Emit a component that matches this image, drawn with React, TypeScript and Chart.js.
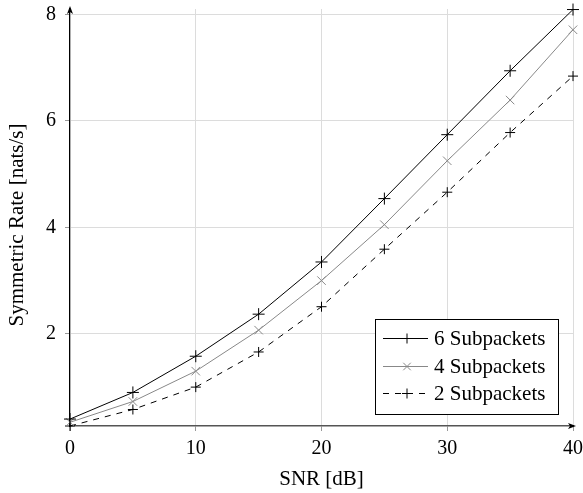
import { useEffect, useRef } from "react";
import { Chart, registerables } from "chart.js";
Chart.register(...registerables);

const snr = [0, 5, 10, 15, 20, 25, 30, 35, 40];
const rate6 = [0.40, 0.90, 1.58, 2.37, 3.35, 4.54, 5.74, 6.94, 8.09];
const rate4 = [0.34, 0.73, 1.30, 2.07, 3.00, 4.05, 5.25, 6.39, 7.71];
const rate2 = [0.27, 0.58, 1.00, 1.66, 2.51, 3.59, 4.66, 5.78, 6.84];
const xTicks = [0, 10, 20, 30, 40];
const yTicks = [2, 4, 6, 8];
const seriesLabels = ["6 Subpackets", "4 Subpackets", "2 Subpackets"];
const xTitle = "SNR [dB]";
const yTitle = "Symmetric Rate [nats/s]";

const FONT = "'Liberation Serif', 'Times New Roman', serif";

const decor = {
  id: "decor",
  afterDraw(chart: any) {
    const ctx = chart.ctx;
    const a = chart.chartArea;
    ctx.save();
    // y-axis arrow
    ctx.fillStyle = "#000";
    ctx.beginPath();
    ctx.moveTo(a.left, a.top - 3);
    ctx.lineTo(a.left - 3, a.top + 5);
    ctx.lineTo(a.left, a.top + 3);
    ctx.lineTo(a.left + 3, a.top + 5);
    ctx.closePath();
    ctx.fill();
    // x-axis arrow
    ctx.beginPath();
    ctx.moveTo(a.right + 3, a.bottom);
    ctx.lineTo(a.right - 5, a.bottom - 3);
    ctx.lineTo(a.right - 3, a.bottom);
    ctx.lineTo(a.right - 5, a.bottom + 3);
    ctx.closePath();
    ctx.fill();

    // y title
    ctx.save();
    ctx.translate(17, 225);
    ctx.rotate(-Math.PI / 2);
    ctx.font = `21px ${FONT}`;
    ctx.textAlign = "center";
    ctx.textBaseline = "middle";
    ctx.fillStyle = "#000";
    ctx.fillText(yTitle, 0, 0);
    ctx.restore();

    // legend
    const bx = 375, by = 319, bw = 183, bh = 95;
    ctx.fillStyle = "#fff";
    ctx.fillRect(bx, by, bw, bh);
    ctx.strokeStyle = "#000";
    ctx.lineWidth = 1;
    ctx.setLineDash([]);
    ctx.strokeRect(bx + 0.5, by + 0.5, bw, bh);
    const rows = [338, 366, 393];
    chart.data.datasets.forEach((ds: any, i: number) => {
      const y = rows[i] + 0.5;
      ctx.strokeStyle = ds.borderColor;
      ctx.lineWidth = ds.borderWidth;
      ctx.setLineDash(ds.borderDash || []);
      ctx.beginPath();
      ctx.moveTo(383, y);
      ctx.lineTo(428, y);
      ctx.stroke();
      ctx.setLineDash([]);
      const cx = 407;
      const r = 5;
      ctx.strokeStyle = ds.pointBorderColor;
      ctx.lineWidth = 1;
      ctx.beginPath();
      if (ds.pointStyle === "crossRot") {
        const d = r * 0.75;
        ctx.moveTo(cx - d, y - d); ctx.lineTo(cx + d, y + d);
        ctx.moveTo(cx - d, y + d); ctx.lineTo(cx + d, y - d);
      } else {
        ctx.moveTo(cx - r, y); ctx.lineTo(cx + r, y);
        ctx.moveTo(cx, y - r); ctx.lineTo(cx, y + r);
      }
      ctx.stroke();
      ctx.fillStyle = "#000";
      ctx.font = `21px ${FONT}`;
      ctx.textBaseline = "middle";
      ctx.textAlign = "left";
      ctx.fillText(ds.label, 434, rows[i] + 1);
    });
    ctx.restore();
  },
};

export default function App() {
  const ref = useRef<HTMLCanvasElement | null>(null);
  useEffect(() => {
    document.body.style.margin = "0";
    const canvas = ref.current!;
    const chart = new Chart(canvas, {
      type: "line",
      data: {
        datasets: [
          {
            label: seriesLabels[0],
            data: snr.map((x, i) => ({ x, y: rate6[i] })),
            borderColor: "#000",
            pointBorderColor: "#000",
            borderWidth: 1,
            pointStyle: "cross",
            pointRadius: 6,
            pointBorderWidth: 1,
          },
          {
            label: seriesLabels[1],
            data: snr.map((x, i) => ({ x, y: rate4[i] })),
            borderColor: "#888",
            pointBorderColor: "#888",
            borderWidth: 1,
            pointStyle: "crossRot",
            pointRadius: 6,
            pointBorderWidth: 1,
          },
          {
            label: seriesLabels[2],
            data: snr.map((x, i) => ({ x, y: rate2[i] })),
            borderColor: "#000",
            pointBorderColor: "#000",
            borderWidth: 1,
            borderDash: [6, 6],
            pointStyle: "cross",
            pointRadius: 5,
            pointBorderWidth: 1,
          },
        ] as any,
      },
      options: {
        animation: false,
        responsive: false,
        clip: false as any,
        layout: { padding: { top: 9, right: 10, left: 0, bottom: 0 } },
        plugins: { legend: { display: false }, tooltip: { enabled: false } },
        scales: {
          x: {
            type: "linear",
            min: 0,
            max: 40,
            afterBuildTicks: (s: any) => { s.ticks = xTicks.map((v) => ({ value: v })); },
            afterFit: (s: any) => { s.height = 67; s.paddingLeft = 0; s.paddingRight = 0; },
            grid: { color: "#dcdcdc", tickLength: 5, drawTicks: true, tickColor: "#999" },
            border: { color: "#555", width: 1.5 },
            ticks: { color: "#000", font: { family: FONT, size: 20 }, padding: 6, maxRotation: 0 },
            title: { display: true, text: xTitle, color: "#000", font: { family: FONT, size: 21 }, padding: { top: 4, bottom: 1 } },
          },
          y: {
            type: "linear",
            min: 0.27,
            max: 8.1,
            afterBuildTicks: (s: any) => { s.ticks = yTicks.map((v) => ({ value: v })); },
            afterFit: (s: any) => { s.width = 70; s.paddingTop = 0; s.paddingBottom = 0; },
            grid: { color: "#dcdcdc", tickLength: 5, tickColor: "#999" },
            border: { color: "#000", width: 1.2 },
            ticks: { color: "#000", font: { family: FONT, size: 20 }, padding: 9 },
            title: { display: false },
          },
        },
      } as any,
      plugins: [decor],
    });
    return () => chart.destroy();
  }, []);
  return <canvas ref={ref} width={583} height={493} style={{ display: "block" }} />;
}
